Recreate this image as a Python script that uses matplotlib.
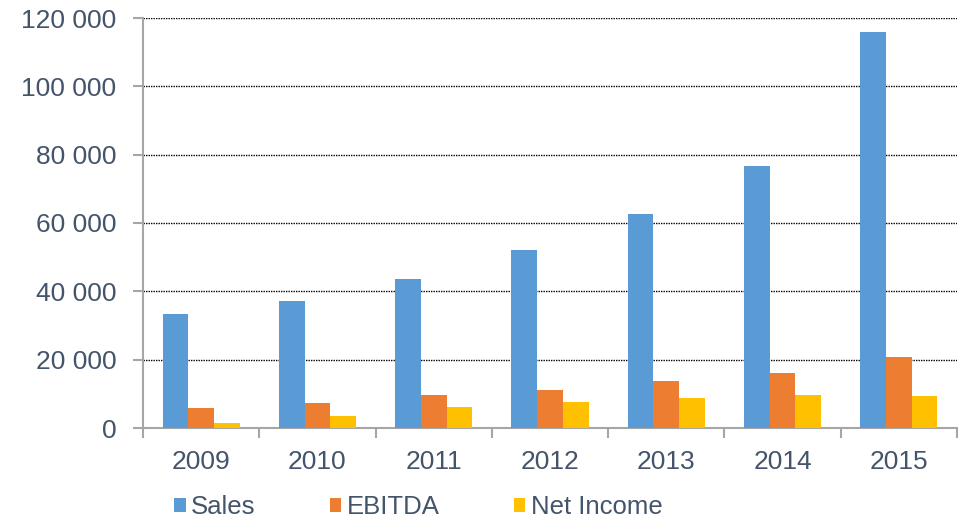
import matplotlib
matplotlib.use("Agg")
import numpy as np
import matplotlib.pyplot as plt
from matplotlib.patches import Patch
from matplotlib.ticker import FuncFormatter, MultipleLocator

# values
years = ["2009", "2010", "2011", "2012", "2013", "2014", "2015"]
sales = [33400, 37200, 43500, 52000, 62700, 76700, 116000]
ebitda = [6000, 7300, 9600, 11100, 13700, 16000, 20800]
net_income = [1600, 3400, 6200, 7600, 8800, 9600, 9300]

series_names = ["Sales", "EBITDA", "Net Income"]
colors = ["#5B9BD5", "#ED7D31", "#FFC000"]
text_color = "#44546A"
axis_color = "#A6A6A6"

plt.rcParams["font.family"] = ["Liberation Sans", "DejaVu Sans"]

fig = plt.figure(figsize=(9.69, 5.23), dpi=100)
ax = fig.add_axes([143 / 969, 1 - 428 / 523, (957 - 143) / 969, (428 - 18) / 523])

x = np.arange(len(years))
w = 0.221
for i, (vals, c) in enumerate(zip([sales, ebitda, net_income], colors)):
    ax.bar(x + (i - 1) * w, vals, width=w, color=c, zorder=3)

ax.set_xlim(-0.5, len(years) - 0.5)
ax.set_ylim(0, 120000)
ax.yaxis.set_major_locator(MultipleLocator(20000))
ax.yaxis.set_major_formatter(FuncFormatter(lambda v, p: f"{v:,.0f}".replace(",", " ")))
ax.grid(axis="y", color="black", linestyle=(0, (1, 0.8)), linewidth=1.0, zorder=0)

# category labels, ticks at boundaries
ax.set_xticks(x)
ax.set_xticklabels(years)
ax.set_xticks(np.arange(-0.5, len(years)), minor=True)
ax.tick_params(axis="x", which="major", length=0, pad=16, labelsize=19, labelcolor=text_color)
ax.tick_params(axis="x", which="minor", length=7, width=1.5, color=axis_color, direction="out")
ax.tick_params(axis="y", length=7, width=1.5, color=axis_color, pad=12, labelsize=19,
               labelcolor=text_color)

for s in ["top", "right"]:
    ax.spines[s].set_visible(False)
for s in ["left", "bottom"]:
    ax.spines[s].set_color(axis_color)
    ax.spines[s].set_linewidth(1.5)

handles = [Patch(facecolor=c, label=n) for c, n in zip(colors, series_names)]
fig.legend(handles=handles, loc="center left", bbox_to_anchor=(174 / 969, 1 - 507 / 523),
           ncol=3, frameon=False, borderpad=0, borderaxespad=0,
           handlelength=0.45, handleheight=0.45, handletextpad=0.2, columnspacing=2.9,
           prop={"size": 18.5}, labelcolor=text_color)

fig.savefig("out.png", dpi=100)
